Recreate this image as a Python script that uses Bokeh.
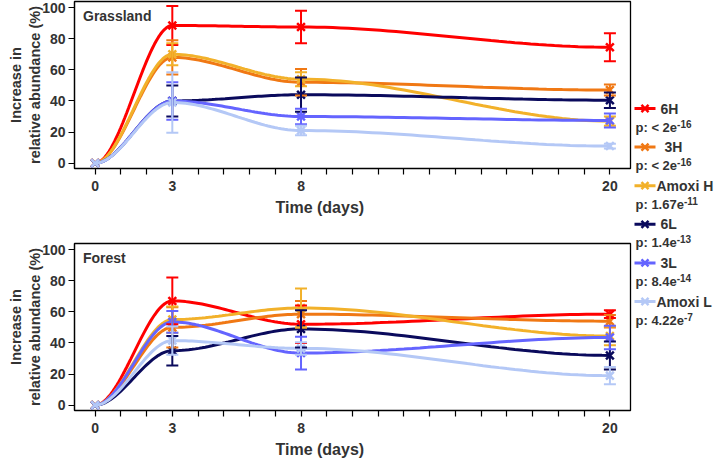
import numpy as np
from bokeh.plotting import figure
from bokeh.models import Range1d, FixedTicker, Whisker, TeeHead, ColumnDataSource, Label, Title
from bokeh.layouts import row, column
from bokeh.embed import file_html
from bokeh.resources import INLINE
from bokeh.core.properties import value

# ---------------- data ----------------
days = [0, 3, 8, 20]
x_tick_labels = ["0", "3", "8", "20"]
y_ticks = [0, 20, 40, 60, 80, 100]
series_names = ["6H", "3H", "Amoxi H", "6L", "3L", "Amoxi L"]
p_base = ["p: < 2e", "p: < 2e", "p: 1.67e", "p: 1.4e", "p: 8.4e", "p: 4.22e"]
p_exp = ["-16", "-16", "-11", "-13", "-14", "-7"]
colors = ["#ff0000", "#f07814", "#f2b12a", "#0a0a5c", "#6464ff", "#b4c8f6"]

grass_6H = [0, 88.5, 87.5, 74.5]
grass_3H = [0, 68, 52, 47]
grass_AmoxiH = [0, 70, 54, 27]
grass_6L = [0, 40, 44, 40.5]
grass_3L = [0, 40, 30, 27.5]
grass_AmoxiL = [0, 39, 21, 11]

grass_err_6H = [0, 12.5, 10.5, 9]
grass_err_3H = [0, 11, 8.5, 3.5]
grass_err_AmoxiH = [0, 7, 4.5, 3]
grass_err_6L = [0, 10, 11, 5]
grass_err_3L = [0, 12, 5, 4.5]
grass_err_AmoxiL = [0, 19.5, 3, 1.5]

forest_6H = [0, 67, 52, 58.5]
forest_3H = [0, 50, 58.5, 54]
forest_AmoxiH = [0, 55, 62.5, 44.5]
forest_6L = [0, 35, 49, 32]
forest_3L = [0, 53.5, 33.5, 43.5]
forest_AmoxiL = [0, 41.5, 36.5, 19]

forest_err_6H = [0, 15, 12, 2.5]
forest_err_3H = [0, 13, 8.5, 4]
forest_err_AmoxiH = [0, 8.5, 12.5, 6]
forest_err_6L = [0, 9.5, 12, 9]
forest_err_3L = [0, 7, 10.5, 7.5]
forest_err_AmoxiL = [0, 9, 4, 5.5]

grass_vals = [grass_6H, grass_3H, grass_AmoxiH, grass_6L, grass_3L, grass_AmoxiL]
grass_errs = [grass_err_6H, grass_err_3H, grass_err_AmoxiH, grass_err_6L, grass_err_3L, grass_err_AmoxiL]
forest_vals = [forest_6H, forest_3H, forest_AmoxiH, forest_6L, forest_3L, forest_AmoxiL]
forest_errs = [forest_err_6H, forest_err_3H, forest_err_AmoxiH, forest_err_6L, forest_err_3L, forest_err_AmoxiL]

TXT = "#333333"
FONT = "Liberation Sans"
Y0, Y1 = -3.4, 103.9
PX_PER_UNIT = 167 / (Y1 - Y0)


def smooth(xs, ys, n=40):
    """Hermite curve with flat tangents at each data point (drawing only)."""
    ox, oy = [], []
    for i in range(len(xs) - 1):
        t = np.linspace(0, 1, n)
        h = 3 * t ** 2 - 2 * t ** 3
        ox.extend(xs[i] + (xs[i + 1] - xs[i]) * t)
        oy.extend(ys[i] + (ys[i + 1] - ys[i]) * h)
    return ox, oy


def panel(title, vals, errs, height, b_top, b_bottom):
    p = figure(width=632, height=height, x_range=Range1d(-0.8, 20.8),
               y_range=Range1d(Y0, Y1), min_border_left=74, min_border_right=2,
               min_border_top=b_top, min_border_bottom=b_bottom,
               output_backend="svg", toolbar_location=None)
    p.grid.visible = False
    p.outline_line_color = "black"
    p.outline_line_width = 1.3
    p.background_fill_color = "white"
    p.border_fill_color = "white"

    p.xaxis.ticker = FixedTicker(ticks=list(range(0, 21)))
    p.xaxis.major_label_overrides = {i: "" for i in range(21)} | {d: l for d, l in zip(days, x_tick_labels)}
    p.yaxis.ticker = FixedTicker(ticks=y_ticks)
    for ax in (p.xaxis, p.yaxis):
        ax.minor_tick_line_color = None
        ax.major_tick_out = 6
        ax.major_tick_in = 0
        ax.major_tick_line_color = "black"
        ax.major_tick_line_width = 1.2
        ax.axis_line_color = "black"
        ax.axis_line_width = 1.2
        ax.major_label_text_font = FONT
        ax.major_label_text_font_style = "bold"
        ax.major_label_text_font_size = "14px"
        ax.major_label_text_color = TXT
    p.xaxis.major_label_standoff = 6
    p.yaxis.major_label_standoff = 3
    p.yaxis.axis_label = "Increase in\nrelative abundance (%)"
    p.yaxis.axis_label_text_font = FONT
    p.yaxis.axis_label_text_font_style = "bold"
    p.yaxis.axis_label_text_font_size = "14.5px"
    p.yaxis.axis_label_text_color = TXT
    p.yaxis.axis_label_standoff = -4

    p.add_layout(Title(text="Time (days)", align="left", offset=201, standoff=6,
                       text_font=FONT, text_font_style="bold",
                       text_font_size="16px", text_color=TXT), "below")
    p.add_layout(Label(x=-0.47, y=Y1 - 14 / PX_PER_UNIT, text=title, text_align="left",
                       text_baseline="middle", text_font=FONT,
                       text_font_style="bold", text_font_size="14px", text_color=TXT))

    for ys, es, c in zip(vals, errs, colors):
        cx, cy = smooth(days, ys)
        p.line(cx, cy, line_color=c, line_width=3)
        idx = [i for i, e in enumerate(es) if e > 0]
        src = ColumnDataSource(dict(x=[days[i] for i in idx],
                                    up=[ys[i] + es[i] for i in idx],
                                    lo=[ys[i] - es[i] for i in idx]))
        p.add_layout(Whisker(source=src, base="x", upper="up", lower="lo",
                             line_color=c, line_width=2, level="glyph",
                             upper_head=TeeHead(size=12, line_color=c, line_width=2),
                             lower_head=TeeHead(size=12, line_color=c, line_width=2)))
        p.scatter(days, ys, marker="x", size=11, line_color=c, line_width=2.5)
    return p


top = panel("Grassland", grass_vals, grass_errs, 230, 1, 62)
bottom = panel("Forest", forest_vals, forest_errs, 231, 13, 51)

# ---------------- legend (separate canvas, 1 unit = 1 px) ----------------
leg = figure(width=82, height=461, x_range=Range1d(0, 82), y_range=Range1d(461, 0),
             min_border=0, output_backend="svg", toolbar_location=None)
leg.axis.visible = False
leg.grid.visible = False
leg.outline_line_color = None
leg.background_fill_color = "white"
leg.border_fill_color = "white"

# Arial/Liberation Sans Bold advance widths (per 1000 em) to place superscripts
ADV = {"p": 611, ":": 333, " ": 278, "<": 584, "e": 556, ".": 278, "-": 333}
def text_w(s, size):
    return sum(ADV.get(ch, 556) for ch in s) * size / 1000.0

row_y = [108 + 38.6 * i for i in range(len(series_names))]
label_x = [28, 32, 24, 28, 28, 24]
leg.segment(x0=[2] * 6, y0=row_y, x1=[23] * 6, y1=row_y, line_color=colors, line_width=3)
leg.scatter(x=[12.5] * 6, y=row_y, marker="x", size=10, line_color=colors, line_width=2.5)
leg.text(x=label_x, y=row_y, text=series_names, text_align="left", text_baseline="middle",
         text_font=value(FONT), text_font_style="bold", text_font_size="14px", text_color=TXT)
py = [y + 18.5 for y in row_y]
leg.text(x=[3] * 6, y=py, text=p_base, text_align="left",
         text_baseline="middle", text_font=value(FONT), text_font_style="bold",
         text_font_size="13px", text_color=TXT)
leg.text(x=[3 + text_w(b, 13) for b in p_base], y=[y - 3.5 for y in py], text=p_exp,
         text_align="left", text_baseline="middle", text_font=value(FONT),
         text_font_style="bold", text_font_size="10px", text_color=TXT)

layout = row(column(top, bottom), leg)
open("out.html", "w").write(file_html(layout, INLINE))
